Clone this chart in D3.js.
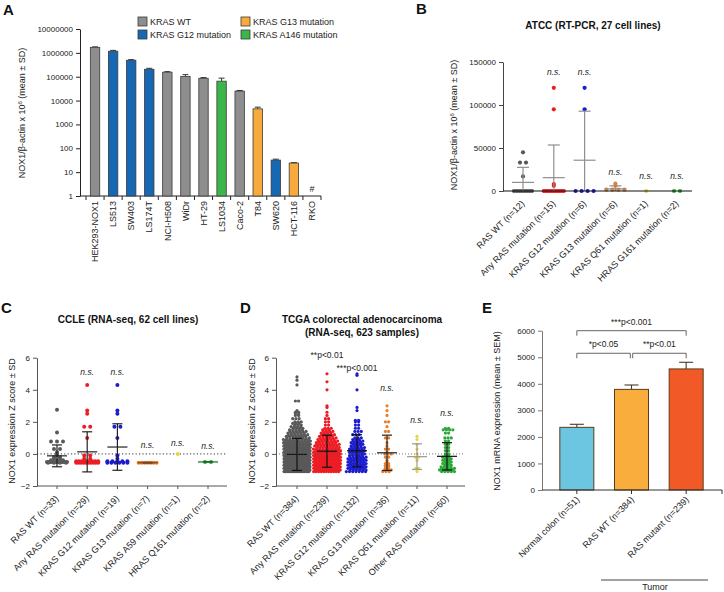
<!DOCTYPE html>
<html>
<head>
<meta charset="utf-8">
<script src="https://cdn.jsdelivr.net/npm/d3@7"></script>
<style>
  body { margin: 0; background: #fff; }
  svg { display: block; }
</style>
</head>
<body>
<div id="fig"></div>
<script>
// ---------- Panel A : qPCR per cell line (log scale) ----------
const aLines  = ["HEK293-NOX1","LS513","SW403","LS174T","NCI-H508","WiDr","HT-29","LS1034","Caco-2","T84","SW620","HCT-116","RKO"];
const aValues = [1700000,1170000,490000,205000,155000,102000,86000,65000,25000,4500,32,24,null];
const aErrors = [80000,100000,30000,20000,8000,20000,6000,22000,1500,800,3,1,null];
const aGroups = ["WT","G12","G12","G12","WT","WT","WT","A146","WT","G13","G12","G13","WT"];
const aLegend = [["WT","KRAS WT"],["G12","KRAS G12 mutation"],["G13","KRAS G13 mutation"],["A146","KRAS A146 mutation"]];
const aTicks  = [1,10,100,1000,10000,100000,1000000,10000000];

// ---------- Panel B : ATCC RT-PCR ----------
const bCats = ["RAS WT (n=12)","Any RAS mutation (n=15)","KRAS G12 mutation (n=6)","KRAS G13 mutation (n=6)","KRAS Q61 mutation (n=1)","HRAS G161 mutation (n=2)"];
// [value, how many dots at that value]
const bPoints = [
  [[45000,1],[33000,2],[17000,1],[0,8]],
  [[120000,1],[95000,1],[8000,1],[6000,1],[0,11]],
  [[120000,1],[95000,1],[0,4]],
  [[8500,1],[6000,1],[1500,4]],
  [[0,1]],
  [[0,2]]
];
const bMean  = [10000,15500,35800,2500,null,null];
const bSD    = [17500,38000,57000,3500,null,null];
const bSig   = [null,"n.s.","n.s.","n.s.","n.s.","n.s."];
const bSigAt = [null,135000,135000,19000,13500,13500];
const bTicks = [0,50000,100000,150000];

// ---------- Panel C : CCLE ----------
const cCats = ["RAS WT (n=33)","Any RAS mutation (n=29)","KRAS G12 mutation (n=19)","KRAS G13 mutation (n=7)","KRAS A59 mutation (n=1)","HRAS Q161 mutation (n=2)"];
const cPoints = [
  [[2.75,1],[1.33,1],[0.77,3],[0.3,2],[0.1,1],[0,1],[-0.1,1],[-0.2,2],[-0.3,2],[-0.4,3],[-0.5,12],[-0.55,4]],
  [[4.3,1],[2.7,1],[2.5,1],[1.7,2],[1.0,1],[-0.1,2],[-0.3,2],[-0.45,9],[-0.55,10]],
  [[4.3,1],[2.7,1],[2.5,1],[1.7,2],[1.0,1],[-0.1,1],[-0.3,1],[-0.45,5],[-0.55,6]],
  [[-0.55,7]],
  [[0,1]],
  [[-0.5,2]]
];
const cMean  = [-0.12,0.13,0.43,-0.55,null,-0.5];
const cSD    = [0.68,1.25,1.45,0.03,null,0];
const cSig   = [null,"n.s.","n.s.","n.s.","n.s.","n.s."];
const cSigAt = [null,4.9,4.9,0.4,0.5,0.3];
const zTicks = [-2,0,2,4,6];

// ---------- Panel D : TCGA ----------
const dCats = ["RAS WT (n=384)","Any RAS mutation (n=239)","KRAS G12 mutation (n=132)","KRAS G13 mutation (n=36)","KRAS Q61 mutation (n=11)","Other RAS mutation (n=60)"];
const dPoints = [
  [[-1.1,18],[-1.0,18],[-0.9,18],[-0.8,18],[-0.7,18],[-0.6,18],[-0.5,18],[-0.4,18],[-0.3,18],[-0.2,15],[-0.1,15],[0,15],
   [0.1,14],[0.2,14],[0.3,13],[0.4,13],[0.5,12],[0.6,11],[0.7,10],[0.8,10],[0.9,9],[1.0,8],[1.1,7],[1.2,7],[1.3,6],[1.4,6],
   [1.5,5],[1.6,4],[1.7,4],[1.8,3],[1.9,3],[2.0,3],[2.2,3],[2.4,2],[2.5,2],[2.6,2],[2.7,1],[3.3,2],[4.3,1],[4.6,1],[4.8,1]],
  [[-1.1,11],[-1.0,12],[-0.9,11],[-0.8,11],[-0.7,10],[-0.6,10],[-0.5,10],[-0.4,10],[-0.3,10],[-0.2,10],[-0.1,10],[0,10],
   [0.1,10],[0.2,9],[0.3,9],[0.4,8],[0.5,8],[0.6,8],[0.7,7],[0.8,7],[0.9,6],[1.0,6],[1.1,5],[1.2,5],[1.3,4],[1.4,4],
   [1.5,3],[1.6,3],[1.8,2],[2.0,2],[2.2,2],[2.4,1],[2.6,1],[2.9,1],[3.0,1],[4.0,1],[4.5,1],[5.0,1]],
  [[-1.1,7],[-1.0,6],[-0.9,6],[-0.8,6],[-0.7,6],[-0.6,6],[-0.5,6],[-0.4,6],[-0.3,6],[-0.2,6],[-0.1,5],[0,5],[0.1,5],
   [0.2,5],[0.3,5],[0.4,5],[0.5,4],[0.6,4],[0.7,4],[0.8,4],[0.9,3],[1.0,3],[1.2,3],[1.4,3],[1.6,2],[1.8,2],[2.0,2],
   [2.1,2],[2.7,1],[2.9,1],[4.0,1],[4.9,1],[5.0,1]],
  [[3.0,1],[2.7,1],[2.4,1],[2.0,2],[1.7,1],[1.4,2],[1.0,2],[0.7,1],[0.5,1],[0.3,2],[0.1,1],[0,3],[-0.2,2],[-0.4,1],
   [-0.5,1],[-0.6,2],[-0.7,2],[-0.8,2],[-0.9,2],[-1.0,3],[-1.1,3]],
  [[1.1,1],[0.9,1],[0.6,1],[0.3,1],[0,1],[-0.2,2],[-0.4,1],[-0.9,2],[-1.1,1]],
  [[1.6,2],[1.5,4],[1.3,2],[1.0,3],[0.8,2],[0.6,2],[0.4,2],[0.2,2],[0,2],[-0.1,2],[-0.2,3],[-0.3,3],[-0.4,3],[-0.5,3],
   [-0.6,3],[-0.7,3],[-0.8,4],[-0.9,5],[-1.0,5],[-1.1,5]]
];
const dMean  = [-0.03,0.17,0.2,0.07,-0.17,-0.15];
const dSD    = [1.0,1.0,1.0,1.1,0.8,0.85];
const dSig   = [null,"**p<0.01","***p<0.001","n.s.","n.s.","n.s."];
const dSigAt = [null,6.0,5.2,3.9,1.9,2.35];

// ---------- Panel E : TCGA mRNA bars ----------
const eCats   = ["Normal colon (n=51)","RAS WT (n=384)","RAS mutant (n=239)"];
const eValues = [2360,3790,4560];
const eSEM    = [115,165,250];
const eCompFrom  = [0,0,1];
const eCompTo    = [2,1,2];
const eCompLabel = ["***p<0.001","*p<0.05","**p<0.01"];
const eCompLevel = [6000,5150,5150];
const eTicks = [0,1000,2000,3000,4000,5000,6000];

// ---------- drawing ----------
const FONT = '"Liberation Sans", Arial, Helvetica, sans-serif';
const svg = d3.select("#fig").append("svg")
  .attr("width", 724).attr("height", 592)
  .attr("font-family", FONT)
  .style("background", "#fff");

const barFill = {WT:"#8e8e8e", G12:"#1668b3", G13:"#f8aa3c", A146:"#3cb54a"};
const dotCols = ["#595959","#ed1c24","#1c1ccf","#e87f2d","#e8d43f","#2ca83a"];

function letter(x, y, t) {
  svg.append("text").attr("x", x).attr("y", y)
    .attr("font-size", 15).attr("font-weight", "bold").attr("fill", "#111").text(t);
}

function yAxis(scale, x, ticks, fmt, col) {
  const ax = svg.append("g").attr("transform", `translate(${x},0)`)
    .call(d3.axisLeft(scale).tickValues(ticks).tickFormat(fmt)
      .tickSize(4).tickSizeOuter(0).tickPadding(3));
  ax.attr("font-family", FONT);
  ax.select(".domain").attr("stroke", col);
  ax.selectAll(".tick line").attr("stroke", col);
  ax.selectAll(".tick text").attr("font-size", 8).attr("fill", "#222");
  return ax;
}

function yTitle(x, y, parts) {
  const t = svg.append("text")
    .attr("transform", `translate(${x},${y}) rotate(-90)`)
    .attr("text-anchor", "middle").attr("font-size", 9).attr("fill", "#222");
  parts.forEach(p => {
    const s = t.append("tspan").text(p.t);
    if (p.sup) s.attr("font-size", 6).attr("dy", -3.5);
    if (p.after) s.attr("dy", 3.5);
  });
}

function rotLabels(cats, xs, y0, angle, size) {
  cats.forEach((c, i) => {
    svg.append("text")
      .attr("transform", `translate(${xs(c)},${y0}) rotate(${angle})`)
      .attr("text-anchor", "end").attr("dy", "0.35em")
      .attr("font-size", size).attr("fill", "#222").text(c);
  });
}

// spread the dots of a row [value,count] sideways like a column scatter
function layout(rows, maxHalf, stepMax, stagger) {
  const out = [];
  rows.forEach(([v, n], ri) => {
    const step = n > 1 ? Math.min(stepMax, 2 * maxHalf / (n - 1)) : 0;
    const w = step * (n - 1);
    const off = stagger && n > 2 ? (ri % 2 ? step / 3 : -step / 3) : 0;
    for (let i = 0; i < n; i++) out.push({v: v, dx: -w / 2 + i * step + off});
  });
  return out;
}

// ===== A =====
letter(3, 15, "A");
const yA = d3.scaleLog().domain([1, 1e7]).range([196, 29]);
const xA = d3.scaleBand().domain(aLines).range([86, 321]).padding(0);
yAxis(yA, 80, aTicks, d3.format("d"), "#222");
svg.append("line").attr("x1", 80).attr("x2", 321).attr("y1", 196).attr("y2", 196).attr("stroke", "#222");
svg.selectAll(".tickA").data(d3.range(aLines.length + 1)).join("line")
  .attr("x1", i => 86 + i * xA.step()).attr("x2", i => 86 + i * xA.step())
  .attr("y1", 196).attr("y2", 200).attr("stroke", "#222");
const bwA = xA.bandwidth() * 0.52;
aLines.forEach((c, i) => {
  const cx = xA(c) + xA.bandwidth() / 2;
  if (aValues[i] == null) {
    svg.append("text").attr("x", cx).attr("y", 192).attr("text-anchor", "middle")
      .attr("font-size", 9).attr("fill", "#222").text("#");
    return;
  }
  const top = yA(aValues[i] + aErrors[i]);
  svg.append("line").attr("x1", cx).attr("x2", cx).attr("y1", yA(aValues[i])).attr("y2", top).attr("stroke", "#333");
  svg.append("line").attr("x1", cx - 3).attr("x2", cx + 3).attr("y1", top).attr("y2", top).attr("stroke", "#333");
  svg.append("rect").attr("x", cx - bwA / 2).attr("width", bwA)
    .attr("y", yA(aValues[i])).attr("height", 196 - yA(aValues[i]))
    .attr("fill", barFill[aGroups[i]]).attr("stroke", "#3a3a3a").attr("stroke-width", 0.8);
});
aLines.forEach(c => {
  const cx = xA(c) + xA.bandwidth() / 2;
  svg.append("text").attr("transform", `translate(${cx},201) rotate(-90)`)
    .attr("text-anchor", "end").attr("dy", "0.35em").attr("font-size", 9).attr("fill", "#222").text(c);
});
yTitle(25, 113, [{t: "NOX1/β-actin x 10"}, {t: "6", sup: true}, {t: " (mean ± SD)", after: true}]);
aLegend.forEach(([k, lab], i) => {
  const lx = i < 2 ? 138 : 241, ly = 17 + (i % 2) * 13;
  svg.append("rect").attr("x", lx).attr("y", ly).attr("width", 9).attr("height", 9)
    .attr("fill", barFill[k]).attr("stroke", "#3a3a3a").attr("stroke-width", 0.8);
  svg.append("text").attr("x", lx + 12).attr("y", ly + 8).attr("font-size", 9).attr("fill", "#222").text(lab);
});

// ===== dot panels (B, C, D) =====
function dotPanel(o) {
  o.cats.forEach((c, i) => {
    const cx = o.x(c);
    const pts = layout(o.points[i], o.maxHalf[i], o.stepMax, o.stagger);
    svg.append("g").selectAll("circle").data(pts).join("circle")
      .attr("cx", d => cx + d.dx).attr("cy", d => o.y(d.v)).attr("r", o.r)
      .attr("fill", dotCols[i]);
    if (o.mean[i] != null) {
      const lo = o.y(Math.max(o.y.domain()[0], o.mean[i] - o.sd[i]));
      const hi = o.y(o.mean[i] + o.sd[i]);
      const col = o.barCol[i];
      svg.append("line").attr("x1", cx).attr("x2", cx).attr("y1", lo).attr("y2", hi).attr("stroke", col).attr("stroke-width", 1.2);
      svg.append("line").attr("x1", cx - o.meanHalf).attr("x2", cx + o.meanHalf)
        .attr("y1", o.y(o.mean[i])).attr("y2", o.y(o.mean[i])).attr("stroke", col).attr("stroke-width", 1.2);
      [hi, lo].forEach((yy, k) => {
        if (k === 1 && o.mean[i] - o.sd[i] < o.y.domain()[0]) return;
        svg.append("line").attr("x1", cx - o.capHalf).attr("x2", cx + o.capHalf)
          .attr("y1", yy).attr("y2", yy).attr("stroke", col).attr("stroke-width", 1.2);
      });
    }
    if (o.sig[i]) {
      svg.append("text").attr("x", cx).attr("y", o.y(o.sigAt[i])).attr("text-anchor", "middle")
        .attr("font-size", 8.5).attr("font-style", o.sig[i] === "n.s." ? "italic" : "normal")
        .attr("fill", "#222").text(o.sig[i]);
    }
  });
}

// ===== B =====
letter(416, 14, "B");
svg.append("text").attr("x", 593).attr("y", 29).attr("text-anchor", "middle")
  .attr("font-size", 10).attr("font-weight", "bold").attr("fill", "#111").text("ATCC (RT-PCR, 27 cell lines)");
const yB = d3.scaleLinear().domain([0, 150000]).range([191, 62]);
const xB = d3.scalePoint().domain(bCats).range([523, 677]);
yAxis(yB, 503, bTicks, d3.format("d"), "#444");
dotPanel({cats: bCats, x: xB, y: yB, points: bPoints, mean: bMean, sd: bSD, sig: bSig, sigAt: bSigAt,
  r: 2.1, maxHalf: [9, 10, 9, 9, 0, 4], stepMax: 6, stagger: false, meanHalf: 11, capHalf: 6,
  barCol: ["#8f8f8f","#8f8f8f","#8f8f8f","#8f8f8f","#8f8f8f","#8f8f8f"]});
svg.append("line").attr("x1", 503).attr("x2", 692).attr("y1", 191).attr("y2", 191).attr("stroke", "#111").attr("stroke-width", 1.2);
rotLabels(bCats, xB, 202, -45, 9);
yTitle(457, 125, [{t: "NOX1/β-actin x 10"}, {t: "6", sup: true}, {t: " (mean ± SD)", after: true}]);

// ===== C =====
letter(1, 313, "C");
svg.append("text").attr("x", 128).attr("y", 323).attr("text-anchor", "middle")
  .attr("font-size", 10).attr("font-weight", "bold").attr("fill", "#111").text("CCLE (RNA-seq, 62 cell lines)");
const yC = d3.scaleLinear().domain([-2, 6]).range([486, 357.7]);
const xC = d3.scalePoint().domain(cCats).range([57, 208]);
yAxis(yC, 37, zTicks, d3.format("d"), "#555");
svg.append("line").attr("x1", 37).attr("x2", 227).attr("y1", yC(0)).attr("y2", yC(0))
  .attr("stroke", "#333").attr("stroke-dasharray", "1.2,2.2");
dotPanel({cats: cCats, x: xC, y: yC, points: cPoints, mean: cMean, sd: cSD, sig: cSig, sigAt: cSigAt,
  r: 2.0, maxHalf: [10, 11, 10, 9, 0, 4], stepMax: 6, stagger: false, meanHalf: 10, capHalf: 5,
  barCol: ["#222","#222","#222","#7a4a20","#222","#1d6b2a"]});
svg.append("line").attr("x1", 37).attr("x2", 227).attr("y1", 486).attr("y2", 486).attr("stroke", "#555");
cCats.forEach(c => svg.append("line").attr("x1", xC(c)).attr("x2", xC(c)).attr("y1", 486).attr("y2", 489).attr("stroke", "#555"));
rotLabels(cCats, xC, 497, -45, 9);
yTitle(15, 421, [{t: "NOX1 expression Z score ± SD"}]);

// ===== D =====
letter(240, 313, "D");
svg.append("text").attr("x", 362).attr("y", 323).attr("text-anchor", "middle")
  .attr("font-size", 10).attr("font-weight", "bold").attr("fill", "#111").text("TCGA colorectal adenocarcinoma");
svg.append("text").attr("x", 362).attr("y", 336).attr("text-anchor", "middle")
  .attr("font-size", 10).attr("font-weight", "bold").attr("fill", "#111").text("(RNA-seq, 623 samples)");
const yD = d3.scaleLinear().domain([-2, 6]).range([486, 357.7]);
const xD = d3.scalePoint().domain(dCats).range([297, 447]);
yAxis(yD, 276, zTicks, d3.format("d"), "#555");
dotPanel({cats: dCats, x: xD, y: yD, points: dPoints, mean: dMean, sd: dSD, sig: dSig, sigAt: dSigAt,
  r: 1.6, maxHalf: [12.5, 12.5, 11.5, 9, 7, 11], stepMax: 3.2, stagger: true, meanHalf: 10, capHalf: 5,
  barCol: ["#111","#111","#111","#222","#9a9a9a","#111"]});
svg.append("line").attr("x1", 276).attr("x2", 465).attr("y1", yD(0)).attr("y2", yD(0))
  .attr("stroke", "#555").attr("stroke-dasharray", "1,2").attr("stroke-width", 0.8);
svg.append("line").attr("x1", 276).attr("x2", 465).attr("y1", 486).attr("y2", 486).attr("stroke", "#555");
dCats.forEach(c => svg.append("line").attr("x1", xD(c)).attr("x2", xD(c)).attr("y1", 486).attr("y2", 489).attr("stroke", "#555"));
rotLabels(dCats, xD, 497, -45, 9);
yTitle(255, 421, [{t: "NOX1 expression Z score ± SD"}]);

// ===== E =====
letter(482, 313, "E");
const yE = d3.scaleLinear().domain([0, 6000]).range([490, 330.7]);
const xE = d3.scaleBand().domain(eCats).range([549.5, 713.5]).padding(0);
yAxis(yE, 542, eTicks, d3.format("d"), "#777");
const bwE = 34;
eCats.forEach((c, i) => {
  const cx = xE(c) + xE.bandwidth() / 2;
  const top = yE(eValues[i] + eSEM[i]);
  svg.append("line").attr("x1", cx).attr("x2", cx).attr("y1", yE(eValues[i])).attr("y2", top).attr("stroke", "#4a3a2a").attr("stroke-width", 1.1);
  svg.append("line").attr("x1", cx - 7).attr("x2", cx + 7).attr("y1", top).attr("y2", top).attr("stroke", "#4a3a2a").attr("stroke-width", 1.1);
  svg.append("rect").attr("x", cx - bwE / 2).attr("width", bwE)
    .attr("y", yE(eValues[i])).attr("height", 490 - yE(eValues[i]))
    .attr("fill", ["#6cc6e1","#f9ad3c","#f15a26"][i]).attr("stroke", "#5b3b1c").attr("stroke-width", 1);
  svg.append("line").attr("x1", cx).attr("x2", cx).attr("y1", 490).attr("y2", 494).attr("stroke", "#333");
});
svg.append("line").attr("x1", 542).attr("x2", 722).attr("y1", 490).attr("y2", 490).attr("stroke", "#333");
svg.append("line").attr("x1", 722).attr("x2", 722).attr("y1", 490).attr("y2", 494).attr("stroke", "#333");
eCompFrom.forEach((f, k) => {
  const x1 = xE(eCats[f]) + xE.bandwidth() / 2 + (k === 2 ? 1.2 : 0);
  const x2 = xE(eCats[eCompTo[k]]) + xE.bandwidth() / 2 - (k === 1 ? 1.2 : 0);
  const yy = yE(eCompLevel[k]);
  svg.append("path").attr("d", `M${x1},${yy + 5}V${yy}H${x2}V${yy + 5}`)
    .attr("fill", "none").attr("stroke", "#666").attr("stroke-width", 1);
  svg.append("text").attr("x", (x1 + x2) / 2).attr("y", yy - 6).attr("text-anchor", "middle")
    .attr("font-size", 8.5).attr("fill", "#222").text(eCompLabel[k]);
});
eCats.forEach(c => {
  const cx = xE(c) + xE.bandwidth() / 2;
  svg.append("text").attr("transform", `translate(${cx + 1},498) rotate(-45)`)
    .attr("text-anchor", "end").attr("dy", "0.35em").attr("font-size", 9).attr("fill", "#222").text(c);
});
svg.append("line").attr("x1", 601).attr("x2", 708).attr("y1", 580).attr("y2", 580).attr("stroke", "#444");
svg.append("text").attr("x", 655).attr("y", 590).attr("text-anchor", "middle")
  .attr("font-size", 9).attr("fill", "#222").text("Tumor");
yTitle(500, 411, [{t: "NOX1 mRNA expression (mean ± SEM)"}]);
</script>
</body>
</html>
